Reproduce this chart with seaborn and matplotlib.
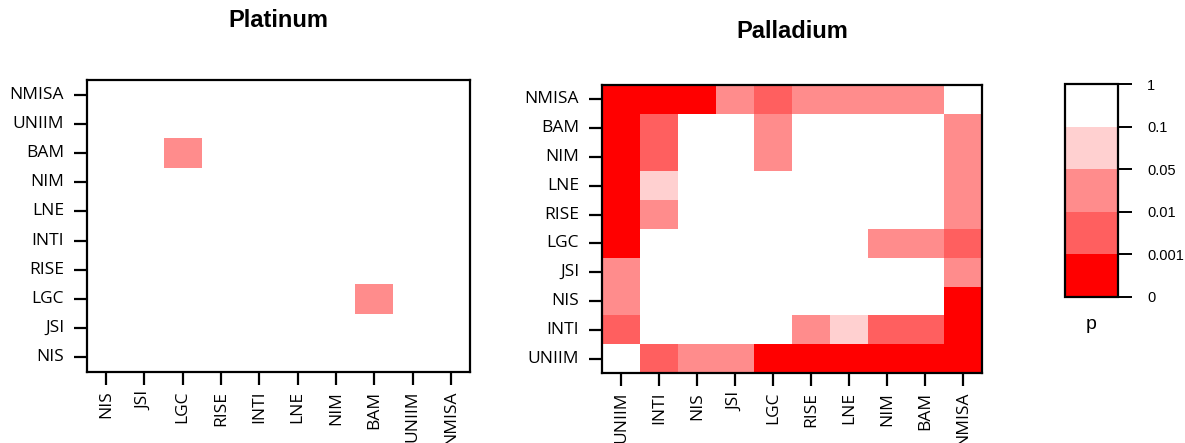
import numpy as np
import pandas as pd
import matplotlib
matplotlib.use("Agg")
import matplotlib.pyplot as plt
from matplotlib.colors import ListedColormap
import seaborn as sns

# significance class per cell: 0: p<0.001, 1: 0.001-0.01, 2: 0.01-0.05, 3: 0.05-0.1, 4: p>0.1
pt_cols = ["NIS", "JSI", "LGC", "RISE", "INTI", "LNE", "NIM", "BAM", "UNIIM", "NMISA"]
pt_rows = ["NMISA", "UNIIM", "BAM", "NIM", "LNE", "INTI", "RISE", "LGC", "JSI", "NIS"]
pt_vals = [
    [4, 4, 4, 4, 4, 4, 4, 4, 4, 4],
    [4, 4, 4, 4, 4, 4, 4, 4, 4, 4],
    [4, 4, 2, 4, 4, 4, 4, 4, 4, 4],
    [4, 4, 4, 4, 4, 4, 4, 4, 4, 4],
    [4, 4, 4, 4, 4, 4, 4, 4, 4, 4],
    [4, 4, 4, 4, 4, 4, 4, 4, 4, 4],
    [4, 4, 4, 4, 4, 4, 4, 4, 4, 4],
    [4, 4, 4, 4, 4, 4, 4, 2, 4, 4],
    [4, 4, 4, 4, 4, 4, 4, 4, 4, 4],
    [4, 4, 4, 4, 4, 4, 4, 4, 4, 4],
]

pd_cols = ["UNIIM", "INTI", "NIS", "JSI", "LGC", "RISE", "LNE", "NIM", "BAM", "NMISA"]
pd_rows = ["NMISA", "BAM", "NIM", "LNE", "RISE", "LGC", "JSI", "NIS", "INTI", "UNIIM"]
pd_vals = [
    [0, 0, 0, 2, 1, 2, 2, 2, 2, 4],
    [0, 1, 4, 4, 2, 4, 4, 4, 4, 2],
    [0, 1, 4, 4, 2, 4, 4, 4, 4, 2],
    [0, 3, 4, 4, 4, 4, 4, 4, 4, 2],
    [0, 2, 4, 4, 4, 4, 4, 4, 4, 2],
    [0, 4, 4, 4, 4, 4, 4, 2, 2, 1],
    [2, 4, 4, 4, 4, 4, 4, 4, 4, 2],
    [2, 4, 4, 4, 4, 4, 4, 4, 4, 0],
    [1, 4, 4, 4, 4, 2, 3, 1, 1, 0],
    [4, 1, 2, 2, 0, 0, 0, 0, 0, 0],
]

cbar_labels = ["0", "0.001", "0.01", "0.05", "0.1", "1"]
class_colors = ["#ff0000", "#ff5f5f", "#ff8c8c", "#ffd0d0", "#ffffff"]

cmap = ListedColormap(class_colors)

fig = plt.figure(figsize=(11.85, 4.43), dpi=100)
ax1 = fig.add_axes([87 / 1185, 1 - 372 / 443, 383 / 1185, 292 / 443])
ax2 = fig.add_axes([602 / 1185, 1 - 373 / 443, 380 / 1185, 288 / 443])
cax = fig.add_axes([1065 / 1185, 1 - 297 / 443, 53 / 1185, 213 / 443])

df_pt = pd.DataFrame(pt_vals, index=pt_rows, columns=pt_cols)
df_pd = pd.DataFrame(pd_vals, index=pd_rows, columns=pd_cols)

sns.heatmap(df_pt, ax=ax1, cmap=cmap, vmin=-0.5, vmax=4.5, cbar=False)
sns.heatmap(df_pd, ax=ax2, cmap=cmap, vmin=-0.5, vmax=4.5, cbar=True, cbar_ax=cax)

tick_font = dict(family="Open Sans", size=12.5)
for ax in (ax1, ax2):
    for s in ax.spines.values():
        s.set_visible(True)
        s.set_linewidth(1.6)
        s.set_color("black")
    ax.tick_params(axis="both", length=9.5, width=1.6, color="black")
    ax.tick_params(axis="y", pad=7)
    ax.tick_params(axis="x", pad=4)
    ax.set_xticklabels(ax.get_xticklabels(), rotation=90, fontdict=tick_font)
    ax.set_yticklabels(ax.get_yticklabels(), rotation=0, fontdict=tick_font)
    ax.set_xlabel("")
    ax.set_ylabel("")

cb = ax2.collections[0].colorbar
cb.set_ticks([-0.5, 0.5, 1.5, 2.5, 3.5, 4.5])
cb.set_ticklabels(cbar_labels)
cb.outline.set_linewidth(1.6)
cb.outline.set_edgecolor("black")
cax.tick_params(length=10, width=1.4, color="black", pad=11, labelsize=10.5)
for t in cax.get_yticklabels():
    t.set_family("Liberation Sans")
cax.text(0.5, -0.09, "p", transform=cax.transAxes, ha="center", va="top",
         fontsize=14, family="Liberation Sans")

fig.text(278 / 1185, 1 - 27 / 443, "Platinum", ha="center", va="baseline",
         fontsize=17, fontweight="bold", family="Liberation Sans")
fig.text(792 / 1185, 1 - 38 / 443, "Palladium", ha="center", va="baseline",
         fontsize=17, fontweight="bold", family="Liberation Sans")

fig.savefig("out.png", dpi=100)
